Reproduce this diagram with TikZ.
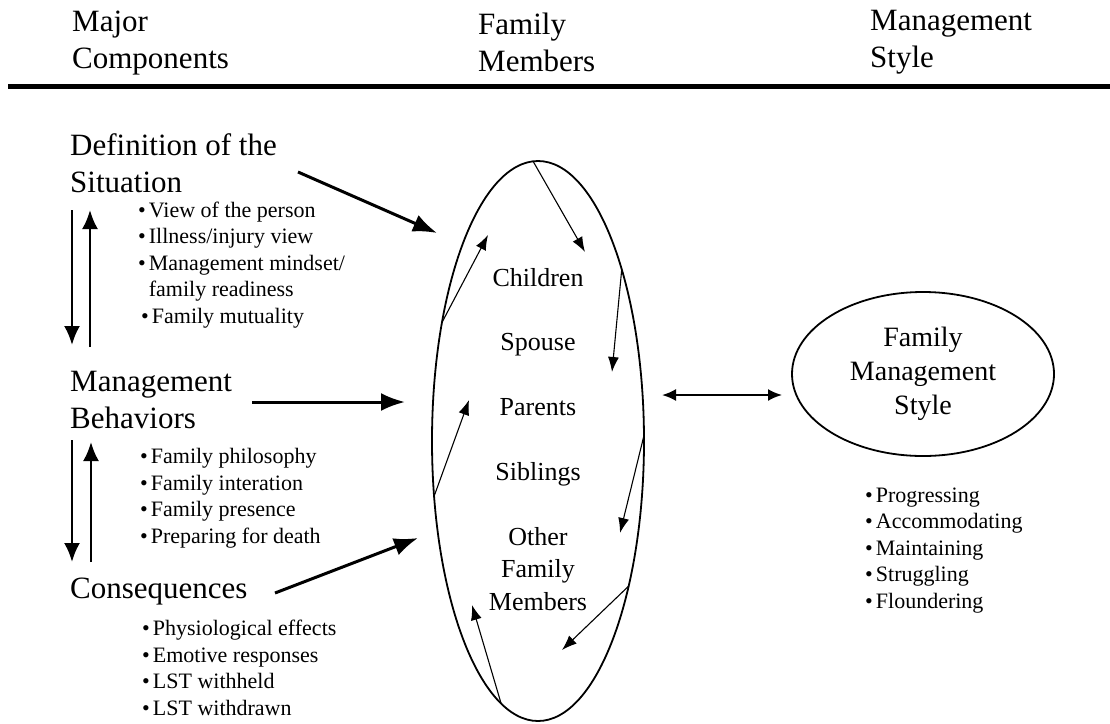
\documentclass[tikz,border=0pt]{standalone}
\usepackage{fontspec}
\setmainfont{Liberation Serif}
\usetikzlibrary{positioning,shapes.geometric,arrows.meta}

\newcommand{\itm}{\textbullet\hspace{3pt}}

\begin{document}
\begin{tikzpicture}[x=1pt,y=-1pt,
  head/.style={
    font=\fontsize{31}{37}\selectfont,
    align=left,
    anchor=base west,
    inner sep=0pt
  },
  blist/.style={
    font=\fontsize{22}{26.5}\selectfont,
    align=left,
    anchor=base west,
    inner sep=0pt
  },
  mem/.style={
    font=\fontsize{26}{32.5}\selectfont,
    align=center,
    anchor=base,
    inner sep=0pt
  },
  oval/.style={
    draw,
    ellipse,
    line width=1.8pt,
    inner sep=0pt,
    outer sep=0pt
  },
  bigarr/.style={line width=3pt,-{Latex[length=24pt,width=18pt]}},
  vertarr/.style={line width=2.5pt,-{Latex[length=19pt,width=16pt]}},
  thinarr/.style={line width=1.1pt,-{Latex[length=15pt,width=11pt]}},
  dblarr/.style={line width=2pt,{Latex[length=14pt,width=12pt]}-{Latex[length=14pt,width=12pt]}}]

  \useasboundingbox (0,0) rectangle (1110,723);

  % column headers (base = last line)
  \node[head] (hcomp) at (72,68) {Major\\Components};
  \node[head] (hmem) at (478,71) {Family\\Members};
  \node[head] (hsty) at (870,67) {Management\\Style};
  \draw[line width=5pt] (8,86) -- (1110,86);

  % major components
  \node[head] (def) at (70,192) {Definition of the\\Situation};
  \node[blist] (deflist) at (138,323)
    {\itm View of the person\\\itm Illness/injury view\\\itm Management mindset/\\\hphantom{\itm}family readiness\\\hspace{3pt}\itm Family mutuality};
  \node[head] (mb) at (70,428) {Management\\Behaviors};
  \node[blist] (mblist) at (140,543)
    {\itm Family philosophy\\\itm Family interation\\\itm Family presence\\\itm Preparing for death};
  \node[head] (cons) at (70,598) {Consequences};
  \node[blist] (conslist) at (142,715)
    {\itm Physiological effects\\\itm Emotive responses\\\itm LST withheld\\\itm LST withdrawn};

  % family members
  \node[oval,minimum width=212pt,minimum height=560pt] (fm) at (538,441) {};
  \node[mem] (ch) at (538,286) {Children};
  \node[mem] (sp) at (538,350) {Spouse};
  \node[mem] (pa) at (538,415) {Parents};
  \node[mem] (si) at (538,480) {Siblings};
  \node[mem] (ot) at (538,610) {Other\\Family\\Members};

  % management style
  \node[oval,minimum width=262pt,minimum height=164pt,
    font=\fontsize{28}{34}\selectfont,align=center] (fms) at (923,374)
    {Family\\Management\\Style};
  \node[blist] (stylist) at (865,608)
    {\itm Progressing\\\itm Accommodating\\\itm Maintaining\\\itm Struggling\\\itm Floundering};

  % arrow ends
  \coordinate (defout) at (298,172);
  \coordinate (defin) at (437,233);
  \coordinate (mbout) at (252,402);
  \coordinate (mbin) at (405,402);
  \coordinate (consout) at (275,593);
  \coordinate (consin) at (418,538);
  \coordinate (v1top) at (72,210);
  \coordinate (v1bot) at (72,345);
  \coordinate (v2bot) at (90,347);
  \coordinate (v2top) at (90,210);
  \coordinate (v3top) at (72,440);
  \coordinate (v3bot) at (72,562);
  \coordinate (v4bot) at (91,562);
  \coordinate (v4top) at (91,442);
  \coordinate (fmr) at (662,395);
  \coordinate (fmsl) at (782,395);

  \draw[bigarr] (defout) -- (defin);
  \draw[bigarr] (mbout) -- (mbin);
  \draw[bigarr] (consout) -- (consin);
  \draw[vertarr] (v1top) -- (v1bot);
  \draw[vertarr] (v2bot) -- (v2top);
  \draw[vertarr] (v3top) -- (v3bot);
  \draw[vertarr] (v4bot) -- (v4top);
  \draw[dblarr] (fmr) -- (fmsl);

  % circulation inside the family
  \coordinate (a1) at (585,252);
  \coordinate (a2) at (612,372);
  \coordinate (a3) at (620,533);
  \coordinate (a4) at (562,650);
  \coordinate (a5) at (472,605);
  \coordinate (a6) at (469,400);
  \coordinate (a7) at (488,235);
  \draw[thinarr] (fm.91) -- (a1);
  \draw[thinarr] (fm.64) -- (a2);
  \draw[thinarr] (fm.3) -- (a3);
  \draw[thinarr] (fm.-58) -- (a4);
  \draw[thinarr] (fm.-98) -- (a5);
  \draw[thinarr] (fm.208) -- (a6);
  \draw[thinarr] (fm.129) -- (a7);

\end{tikzpicture}
\end{document}
